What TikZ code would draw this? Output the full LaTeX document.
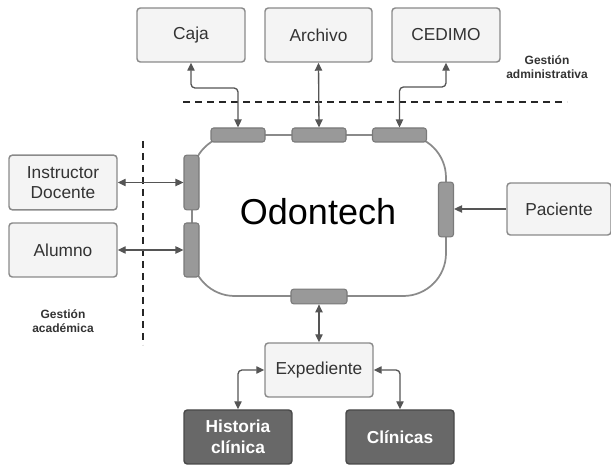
\documentclass[tikz,border=0pt]{standalone}
\usepackage{fontspec}
\setmainfont{Liberation Sans}
\usetikzlibrary{arrows.meta}
\definecolor{boxfill}{HTML}{F4F4F4}
\definecolor{boxline}{HTML}{8A8A8A}
\definecolor{portfill}{HTML}{999999}
\definecolor{portline}{HTML}{7A7A7A}
\definecolor{wire}{HTML}{555555}
\definecolor{darkbox}{HTML}{686868}
\definecolor{txt}{HTML}{333333}
\tikzset{
  lightbox/.style={draw=boxline, fill=boxfill, line width=1.1pt, rounded corners=2.5pt, text=txt, font=\fontsize{13}{15}\selectfont, align=center},
  darkbox/.style={draw=darkbox!70!black, fill=darkbox, line width=1.1pt, rounded corners=2.5pt, text=white, font=\bfseries\fontsize{13}{15.5}\selectfont, align=center},
  port/.style={draw=portline, fill=portfill, line width=0.8pt, rounded corners=2pt},
  wire2/.style={draw=wire, line width=1pt, {Triangle[length=6pt,width=5.5pt]}-{Triangle[length=6pt,width=5.5pt]}},
  wire1/.style={draw=wire, line width=1pt, -{Triangle[length=6pt,width=5.5pt]}},
  dashline/.style={draw=black!85, line width=1.1pt, dash pattern=on 5pt off 4pt},
  gest/.style={text=txt, font=\bfseries\fontsize{9}{11}\selectfont, align=center}
}
\begin{document}
\begin{tikzpicture}[x=0.75pt,y=-0.75pt]
\useasboundingbox (0,0) rectangle (611,466);
% main system
\draw[boxline, line width=1.3pt, rounded corners=32] (192,135) rectangle (446,296);
\node[font=\fontsize{27}{30}\selectfont, text=black] (odon) at (318,212) {Odontech};
% ports
\node[port, minimum width=40.5pt, minimum height=10.5pt, inner sep=0pt] (pcaja) at (238,135) {};
\node[port, minimum width=40.5pt, minimum height=10.5pt, inner sep=0pt] (parch) at (319,135) {};
\node[port, minimum width=40.5pt, minimum height=10.5pt, inner sep=0pt] (pced) at (399.5,135) {};
\node[port, minimum width=11.25pt, minimum height=41pt, inner sep=0pt] (pinst) at (191.5,182.5) {};
\node[port, minimum width=11.25pt, minimum height=40.5pt, inner sep=0pt] (palum) at (191.5,250) {};
\node[port, minimum width=11.25pt, minimum height=41pt, inner sep=0pt] (ppac) at (446,209.5) {};
\node[port, minimum width=42pt, minimum height=11pt, inner sep=0pt] (pexp) at (319,296.5) {};
% top boxes
\node[lightbox, minimum width=81pt, minimum height=40.5pt] (caja) at (191,35) {Caja};
\node[lightbox, minimum width=80.25pt, minimum height=40.5pt] (arch) at (318.5,35) {Archivo};
\node[lightbox, minimum width=81pt, minimum height=40.5pt] (ced) at (446,35) {CEDIMO};
% left boxes
\node[lightbox, minimum width=81pt, minimum height=41pt] (inst) at (63,182.5) {Instructor\\Docente};
\node[lightbox, minimum width=81pt, minimum height=40.5pt] (alum) at (63,250) {Alumno};
% right box
\node[lightbox, minimum width=78pt, minimum height=39pt] (pac) at (559,209) {Paciente};
% bottom boxes
\node[lightbox, minimum width=81pt, minimum height=40.5pt] (exp) at (319,370) {Expediente};
\node[darkbox, minimum width=81pt, minimum height=40.5pt] (hist) at (238,437) {Historia\\clínica};
\node[darkbox, minimum width=81pt, minimum height=40.5pt] (clin) at (400,437) {Clínicas};
% dashed separators
\coordinate (dh1) at (183,102);
\coordinate (dh2) at (567,102);
\coordinate (dv1) at (143,141);
\coordinate (dv2) at (143,345);
\draw[dashline] (dh1) -- (dh2);
\draw[dashline] (dv1) -- (dv2);
% labels
\node[gest] (gadm) at (547,67) {Gestión\\administrativa};
\node[gest] (gaca) at (63,321) {Gestión\\académica};
% connectors
\draw[wire2, rounded corners=3pt] (caja.south) -- (191,88) -| (pcaja.north);
\draw[wire2] (arch.south) -- (parch.north);
\draw[wire2, rounded corners=3pt] (ced.south) -- (446,87) -| (pced.north);
\draw[wire2] (inst.east) -- (pinst.west);
\draw[wire2] (alum.east) -- (alum.east -| palum.west);
\draw[wire1] (pac.west) -- (pac.west -| ppac.east);
\draw[wire2] (pexp.south) -- (exp.north);
\draw[wire2, rounded corners=3pt] (exp.west) -| (hist.north);
\draw[wire2, rounded corners=3pt] (exp.east) -| (clin.north);
\end{tikzpicture}
\end{document}
